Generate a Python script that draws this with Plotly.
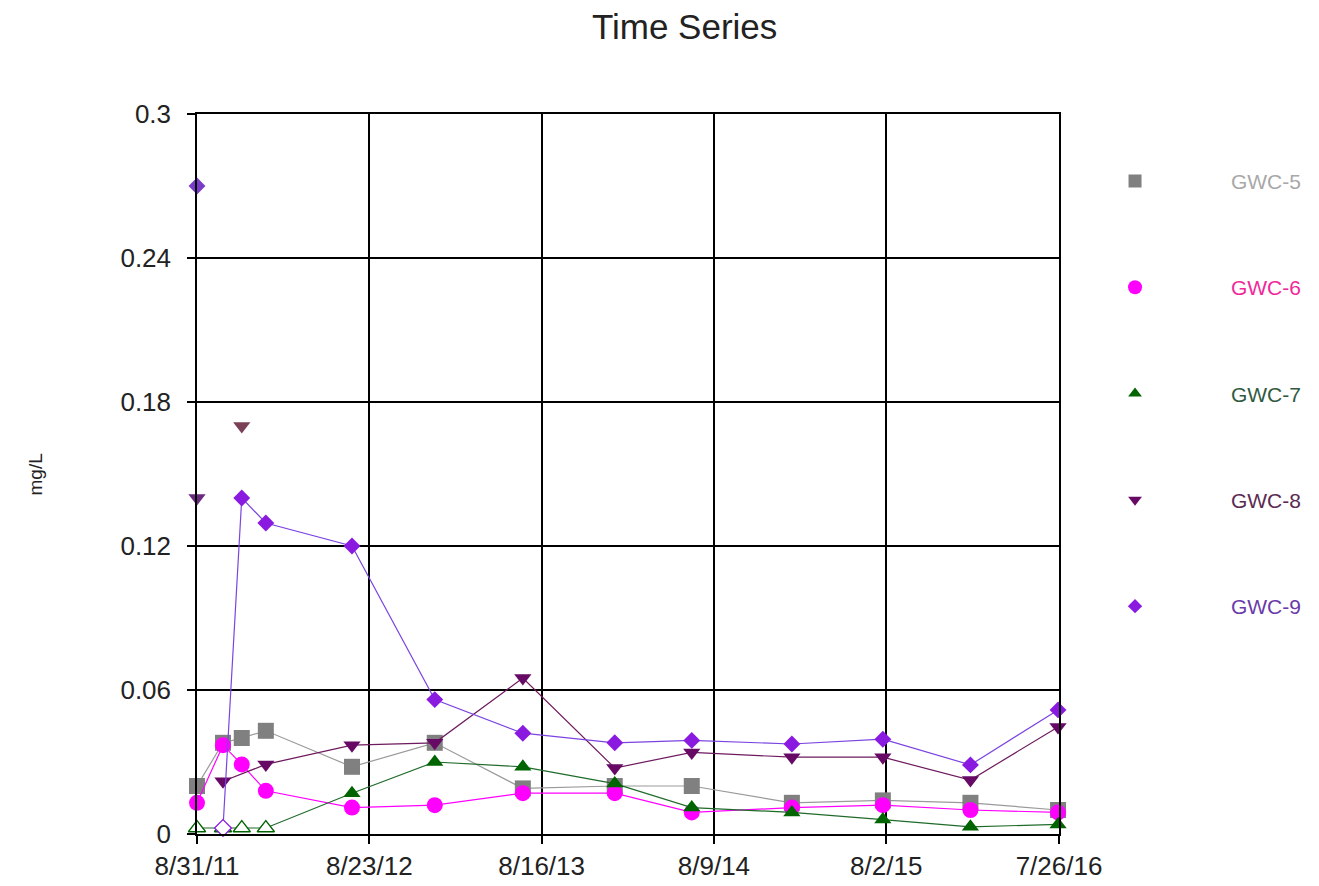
import plotly.graph_objects as go

# ---------------- data ----------------
dates = ["2011-08-31", "2011-10-24", "2011-12-02", "2012-01-21", "2012-07-18",
         "2013-01-06", "2013-07-08", "2014-01-15", "2014-06-24", "2015-01-18",
         "2015-07-26", "2016-01-24", "2016-07-24"]

gwc5 = [0.020, 0.038, 0.040, 0.043, 0.028, 0.038, 0.019, 0.020, 0.020, 0.013, 0.014, 0.013, 0.010]
gwc6 = [0.013, 0.037, 0.029, 0.018, 0.011, 0.012, 0.017, 0.017, 0.009, 0.011, 0.012, 0.010, 0.009]
gwc7 = [0.0025, 0.0025, 0.0025, 0.0025, 0.017, 0.030, 0.028, 0.021, 0.011, 0.009, 0.006, 0.003, 0.004]
gwc7_nd = [True, True, True, True, False, False, False, False, False, False, False, False, False]
gwc8 = [None, 0.022, None, 0.029, 0.037, 0.038, 0.065, 0.0275, 0.034, 0.032, 0.032, 0.0225, 0.0446]
gwc9 = [None, 0.0025, 0.140, 0.1296, 0.120, 0.056, 0.042, 0.038, 0.039, 0.0375, 0.0395, 0.0288, 0.0517]
gwc9_nd = [False, True, False, False, False, False, False, False, False, False, False, False, False]

gwc8_out_dates = ["2011-08-31", "2011-12-02"]
gwc8_out_vals = [0.140, 0.170]
gwc9_out_dates = ["2011-08-31"]
gwc9_out_vals = [0.270]

x_tick_vals = ["2011-08-31", "2012-08-23", "2013-08-16", "2014-08-09", "2015-08-02", "2016-07-26"]
x_tick_text = ["8/31/11", "8/23/12", "8/16/13", "8/9/14", "8/2/15", "7/26/16"]
y_tick_vals = [0, 0.06, 0.12, 0.18, 0.24, 0.3]
y_tick_text = ["0", "0.06", "0.12", "0.18", "0.24", "0.3"]

# ---------------- figure ----------------
fig = go.Figure()

PAD = "\u00a0" * 13


def add_series(name, y, symbol, mcolor, lcolor, tcolor, size, lsize, nd=None):
    if nd is None:
        nd = [False] * len(y)
    fill = ["white" if f else mcolor for f in nd]
    fig.add_trace(go.Scatter(
        x=dates, y=y, mode="lines+markers", connectgaps=True,
        showlegend=False, legendgroup=name,
        line=dict(color=lcolor, width=1.2),
        marker=dict(symbol=symbol, size=size, color=fill,
                    line=dict(color=mcolor, width=[1.3 if f else 0 for f in nd])),
        cliponaxis=False,
    ))
    # legend entry (marker only)
    fig.add_trace(go.Scatter(
        x=[None], y=[None], mode="markers", legendgroup=name,
        name=PAD + "<span style='color:%s'>%s</span>" % (tcolor, name),
        marker=dict(symbol=symbol, size=lsize, color=mcolor),
    ))


add_series("GWC-5", gwc5, "square", "#808080", "#9a9a9a", "#a8a8a8", 16, 13)
add_series("GWC-6", gwc6, "circle", "#ff00ff", "#ff00ff", "#f0289a", 16, 14)
add_series("GWC-7", gwc7, "triangle-up", "#006400", "#1f6b2a", "#2f5a3f", 15, 12, gwc7_nd)
add_series("GWC-8", gwc8, "triangle-down", "#660a66", "#6e1a5e", "#5a2a52", 15, 12)
add_series("GWC-9", gwc9, "diamond", "#8a1ae0", "#7b44e0", "#6a3aaa", 13, 11, gwc9_nd)

fig.add_trace(go.Scatter(x=gwc8_out_dates, y=gwc8_out_vals, mode="markers",
                         marker=dict(symbol="triangle-down", size=15, color=["#6a2a80", "#7a4058"]),
                         showlegend=False, cliponaxis=False))
fig.add_trace(go.Scatter(x=gwc9_out_dates, y=gwc9_out_vals, mode="markers",
                         marker=dict(symbol="diamond", size=13, color="#7a3cc8"),
                         showlegend=False, cliponaxis=False))

fig.update_layout(
    width=1319, height=886,
    margin=dict(l=189, r=268, t=106, b=60),
    paper_bgcolor="white", plot_bgcolor="white",
    font=dict(family="Liberation Sans, Arial, sans-serif", color="#222222"),
    title=dict(text="Time Series", x=0.513, xref="container", xanchor="center",
               y=0.9786, yref="container", yanchor="middle",
               font=dict(size=35, color="#222222")),
    showlegend=True,
    legend=dict(x=1.065, y=0.935, xanchor="left", yanchor="top",
                font=dict(size=21), itemwidth=30, tracegroupgap=76,
                bgcolor="rgba(0,0,0,0)"),
    xaxis=dict(type="date", range=["2011-08-31", "2016-07-26"],
               tickvals=x_tick_vals, ticktext=x_tick_text,
               showgrid=True, gridcolor="black", gridwidth=1.5,
               showline=True, linecolor="black", linewidth=1.5, mirror=True,
               ticks="outside", ticklen=8, tickcolor="black", tickwidth=1.5,
               tickfont=dict(size=26, color="#222222"), zeroline=False),
    yaxis=dict(range=[0, 0.3], tickvals=y_tick_vals, ticktext=y_tick_text,
               showgrid=True, gridcolor="black", gridwidth=1.5,
               showline=True, linecolor="black", linewidth=1.5, mirror=True,
               ticks="outside", ticklen=8, tickcolor="black", tickwidth=1.5,
               ticklabelstandoff=11,
               tickfont=dict(size=26, color="#222222"), zeroline=False),
    annotations=[dict(text="mg/L", textangle=-90, x=-0.2019, y=0.5,
                      xref="paper", yref="paper", showarrow=False,
                      font=dict(size=19, color="#222222"))],
)

fig.write_html("out.html")
